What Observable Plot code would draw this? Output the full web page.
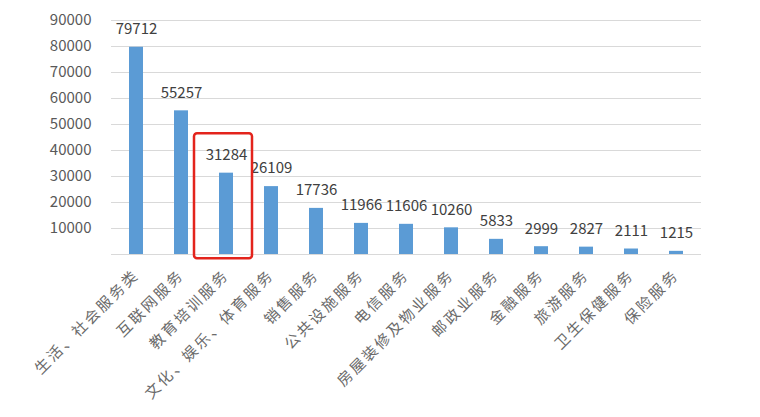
<!DOCTYPE html>
<html>
<head>
<meta charset="utf-8">
<script src="https://cdn.jsdelivr.net/npm/d3@7"></script>
<script src="https://cdn.jsdelivr.net/npm/@observablehq/plot@0.6"></script>
<style>
  html, body { margin: 0; padding: 0; background: #fff; }
</style>
</head>
<body>
<div id="chart"></div>
<script>
const categories = ["生活、社会服务类", "互联网服务", "教育培训服务", "文化、娱乐、体育服务", "销售服务", "公共设施服务", "电信服务", "房屋装修及物业服务", "邮政业服务", "金融服务", "旅游服务", "卫生保健服务", "保险服务"];
const values = [79712, 55257, 31284, 26109, 17736, 11966, 11606, 10260, 5833, 2999, 2827, 2111, 1215];
const yTickLabels = [10000, 20000, 30000, 40000, 50000, 60000, 70000, 80000, 90000];
const highlightCategory = ["教育培训服务"];
const highlightRange = [-1650, 46400];

const data = categories.map((c, i) => ({category: c, value: values[i]}));
const highlight = highlightCategory.map(c => ({category: c, y1: highlightRange[0], y2: highlightRange[1]}));

const chart = Plot.plot({
  width: 760,
  height: 417,
  marginLeft: 111,
  marginRight: 59,
  marginTop: 20,
  marginBottom: 163,
  style: {fontFamily: "'Noto Sans CJK SC', sans-serif", fontSize: "15px", color: "#595959", background: "#fff"},
  x: {domain: categories, paddingInner: 0.685, paddingOuter: 0.3425, label: null},
  y: {domain: [0, 90000], label: null},
  marks: [
    Plot.gridY(yTickLabels, {stroke: "#d9d9d9", strokeOpacity: 1}),
    Plot.ruleY([0], {stroke: "#d9d9d9"}),
    Plot.barY(data, {x: "category", y: "value", fill: "#5b9bd5"}),
    Plot.text(data, {x: "category", y: "value", text: d => String(d.value), dy: -18, fill: "#404040", fontSize: 15}),
    Plot.axisY({ticks: yTickLabels, tickSize: 0, tickPadding: 20, tickFormat: d => String(d), fontSize: 15, fill: "#595959", label: null}),
    Plot.axisX({tickRotate: -45, tickSize: 0, tickPadding: 18, fontSize: 15, fill: "#6a6a6a", label: null, className: "xlabels"}),
    Plot.barY(highlight, {x: "category", y1: "y1", y2: "y2", fill: "none", stroke: "#e3241c", strokeWidth: 2.5, rx: 3, insetLeft: -25, insetRight: -19})
  ]
});
chart.querySelectorAll("g[aria-label='x-axis tick label'] text").forEach(t => t.setAttribute("letter-spacing", "2.5"));
document.getElementById("chart").appendChild(chart);
</script>
</body>
</html>
